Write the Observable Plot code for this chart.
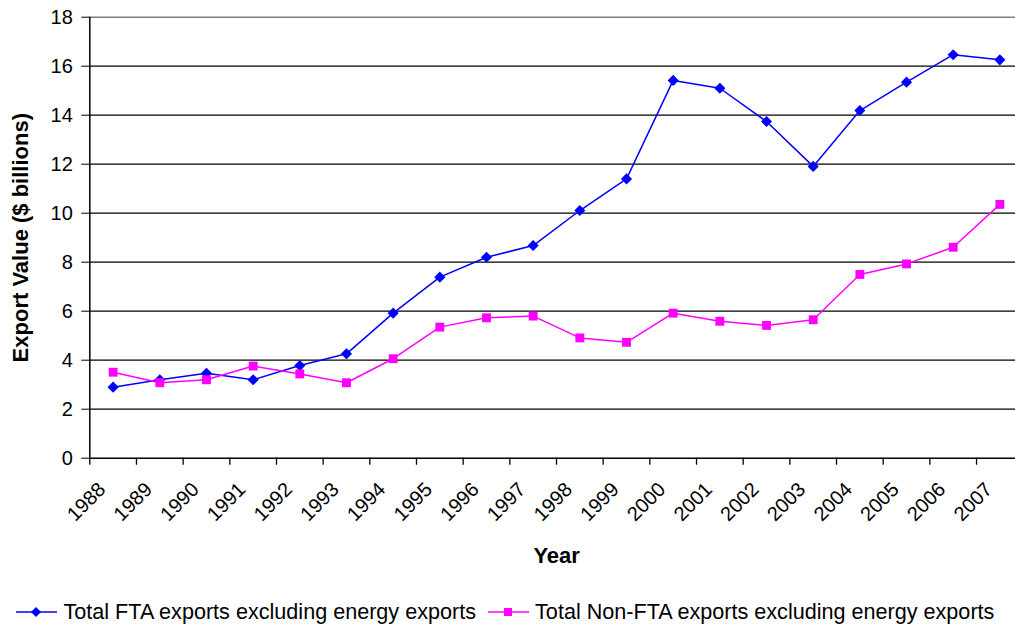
<!DOCTYPE html>
<html><head><meta charset="utf-8">
<script src="https://cdn.jsdelivr.net/npm/d3@7"></script>
<script src="https://cdn.jsdelivr.net/npm/@observablehq/plot@0.6"></script>
<style>
html,body{margin:0;padding:0;background:#fff;overflow:hidden;}
#wrap{position:relative;width:1015px;height:629px;font-family:"Liberation Sans",Arial,sans-serif;}
#legend{position:absolute;left:0;top:598px;height:28px;display:flex;align-items:center;font-size:21.6px;color:#000;white-space:nowrap;}
#legend .item{display:flex;align-items:center;}
#legend svg{display:block;}
</style></head><body><div id="wrap"></div>
<script>
const years = ["1988","1989","1990","1991","1992","1993","1994","1995","1996","1997","1998","1999","2000","2001","2002","2003","2004","2005","2006","2007"];
const ftaValues = [2.90,3.20,3.47,3.20,3.78,4.26,5.92,7.39,8.20,8.68,10.11,11.40,15.42,15.10,13.74,11.91,14.19,15.35,16.47,16.26];
const nonFtaValues = [3.51,3.08,3.20,3.76,3.44,3.08,4.06,5.35,5.73,5.80,4.91,4.73,5.92,5.59,5.42,5.65,7.50,7.93,8.61,10.36];
const yTicks = [0,2,4,6,8,10,12,14,16,18];
const seriesNames = ["Total FTA exports excluding energy exports","Total Non-FTA exports excluding energy exports"];
const seriesColors = ["#0000ff","#ff00ff"];
const seriesSymbols = ["diamond2","square"];
const xTitle = "Year";
const yTitle = "Export Value ($ billions)";

const ftaRows = years.map((year,i)=>({year, value: ftaValues[i]}));
const nonFtaRows = years.map((year,i)=>({year, value: nonFtaValues[i]}));

const W = 1015, H = 580, mL = 89.3, mT = 16.7, mB = 122.3;
const xEnd = 1022.7;
const step = (xEnd - mL) / years.length;
const pxPerUnit = (H - mT - mB) / 18;
const tickLen = 7;
const font = '"Liberation Sans", Arial, sans-serif';

const chart = Plot.plot({
  width: W, height: H,
  marginLeft: mL, marginRight: 0, marginTop: mT, marginBottom: mB,
  style: {fontFamily: font, fontSize: "20px", color: "#000", background: "#fff", overflow: "visible"},
  x: {type: "band", domain: years, range: [mL, xEnd], padding: 0, round: false, axis: null},
  y: {domain: [0, 18], axis: null},
  marks: [
    Plot.ruleY(yTicks.filter(d => d > 0 && d < 18), {stroke: "#000", strokeWidth: 1.3}),
    Plot.ruleY([18], {stroke: "#808080", strokeWidth: 1.5}),
    Plot.ruleY([0], {stroke: "#000", strokeWidth: 1.5}),
    Plot.ruleX([years[0]], {x: d => d, dx: -step/2, y1: 0, y2: 18, stroke: "#000", strokeWidth: 1.5}),
    Plot.ruleX(years, {x: d => d, dx: -step/2, y1: 0, y2: -tickLen/pxPerUnit, stroke: "#000", strokeWidth: 1.3}),
    Plot.axisY({ticks: yTicks, anchor: "left", label: null, tickSize: 8, tickPadding: 9, fontSize: 20, stroke: "#000"}),
    Plot.text(years, {x: d => d, frameAnchor: "bottom", dx: -11, dy: 28, rotate: -45, textAnchor: "end", lineAnchor: "middle", fontSize: 20, fill: "#000"}),
    Plot.text([yTitle], {frameAnchor: "left", dx: -69, rotate: -90, textAnchor: "middle", lineAnchor: "middle", fontWeight: "bold", fontSize: 22, fill: "#000"}),
    Plot.text([xTitle], {frameAnchor: "bottom", dx: 4, dy: 97.5, textAnchor: "middle", lineAnchor: "middle", fontWeight: "bold", fontSize: 22, fill: "#000"}),
    Plot.line(ftaRows, {x: "year", y: "value", stroke: seriesColors[0], strokeWidth: 1.5}),
    Plot.line(nonFtaRows, {x: "year", y: "value", stroke: seriesColors[1], strokeWidth: 1.5}),
    Plot.dot(ftaRows, {x: "year", y: "value", symbol: seriesSymbols[0], r: 5, fill: seriesColors[0], stroke: "none"}),
    Plot.dot(nonFtaRows, {x: "year", y: "value", symbol: seriesSymbols[1], r: 5, fill: seriesColors[1], stroke: "none"})
  ]
});
const wrap = document.getElementById("wrap");
wrap.appendChild(chart);

const legend = document.createElement("div");
legend.id = "legend";
const symPaths = [
  "M20,15 L25,20 L20,25 L15,20 Z",
  "M16,16 H24 V24 H16 Z"
];
seriesNames.forEach((name, i) => {
  const item = document.createElement("div");
  item.className = "item";
  item.style.marginLeft = i === 0 ? "16px" : "11.6px";
  const ns = "http://www.w3.org/2000/svg";
  const svg = document.createElementNS(ns, "svg");
  svg.setAttribute("width", "41"); svg.setAttribute("height", "40");
  const ln = document.createElementNS(ns, "line");
  ln.setAttribute("x1", "0"); ln.setAttribute("x2", "41"); ln.setAttribute("y1", "20"); ln.setAttribute("y2", "20");
  ln.setAttribute("stroke", seriesColors[i]); ln.setAttribute("stroke-width", "1.5");
  svg.appendChild(ln);
  const p = document.createElementNS(ns, "path");
  p.setAttribute("d", symPaths[i]); p.setAttribute("fill", seriesColors[i]);
  svg.appendChild(p);
  item.appendChild(svg);
  const t = document.createElement("span");
  t.textContent = name;
  t.style.marginLeft = "6.5px";
  item.appendChild(t);
  legend.appendChild(item);
});
wrap.appendChild(legend);
</script></body></html>
